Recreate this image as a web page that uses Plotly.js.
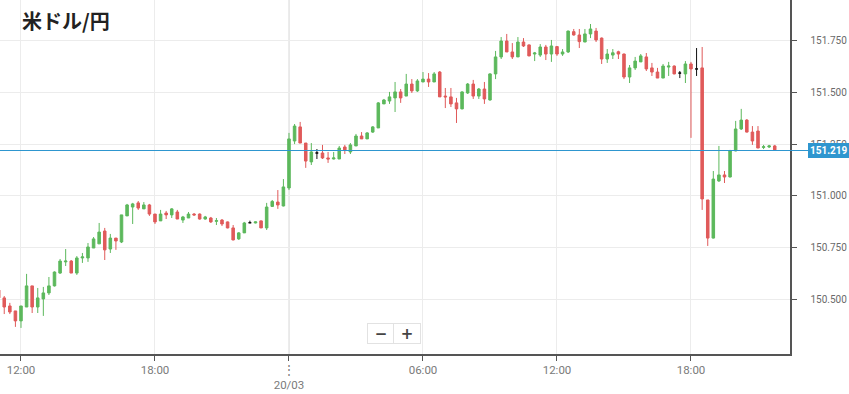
<!DOCTYPE html>
<html><head><meta charset="utf-8">
<script src="https://cdn.plot.ly/plotly-3.0.1.min.js"></script>
<style>html,body{margin:0;padding:0;background:#fff;} #chart{width:849px;height:394px;}</style>
</head><body><div id="chart"></div>
<script>
const chartTitle = '米ドル/円';
const startTime = '2024-03-19T11:00:00Z'; // first 15-minute candle
const open = [150.545,150.507,150.468,150.444,150.396,150.463,150.565,150.463,150.502,150.531,
150.565,150.627,150.681,150.685,150.627,150.700,150.700,150.748,150.768,150.830,
150.743,150.796,150.777,150.903,150.946,150.966,150.937,150.956,150.912,150.879,
150.917,150.908,150.922,150.883,150.893,150.912,150.912,150.888,150.893,150.877,
150.883,150.874,150.845,150.792,150.821,150.870,150.869,150.879,150.845,150.949,
150.970,150.951,151.038,151.265,151.333,151.255,151.164,151.207,151.207,151.183,
151.178,151.178,151.236,151.212,151.241,151.289,151.275,151.308,151.328,151.444,
151.458,151.473,151.502,151.482,151.540,151.507,151.550,151.564,151.550,151.598,
151.482,151.478,151.449,151.420,151.497,151.540,151.482,151.516,151.463,151.589,
151.671,151.748,151.695,151.671,151.743,151.729,151.685,151.680,151.719,151.685,
151.721,151.685,151.695,151.793,151.777,151.743,151.782,151.796,151.762,151.661,
151.680,151.696,151.685,151.574,151.618,151.647,151.671,151.618,151.598,151.569,
151.622,151.627,151.593,151.589,151.637,151.613,151.618,150.980,150.796,151.072,
151.101,151.091,151.217,151.323,151.366,151.308,151.313,151.234,151.236,151.241];
const high = [150.555,150.516,150.483,150.444,150.468,150.623,150.565,150.555,150.560,150.608,
150.635,150.695,150.743,150.690,150.709,150.724,150.772,150.801,150.869,150.845,
150.816,150.796,150.908,150.961,150.966,150.975,150.970,150.961,150.912,150.932,
150.927,150.941,150.932,150.903,150.922,150.917,150.915,150.903,150.898,150.893,
150.888,150.876,150.859,150.825,150.874,150.880,150.876,150.881,150.966,150.980,
151.028,151.081,151.304,151.347,151.357,151.255,151.255,151.226,151.246,151.212,
151.212,151.241,151.246,151.255,151.299,151.308,151.308,151.337,151.453,151.468,
151.502,151.550,151.516,151.589,151.564,151.564,151.598,151.593,151.598,151.603,
151.521,151.521,151.473,151.505,151.545,151.560,151.521,151.550,151.592,151.700,
151.767,151.782,151.738,151.767,151.762,151.731,151.695,151.733,151.729,151.753,
151.724,151.709,151.798,151.806,151.806,151.806,151.830,151.811,151.765,151.709,
151.709,151.701,151.687,151.632,151.671,151.685,151.690,151.642,151.618,151.637,
151.647,151.630,151.603,151.651,151.647,151.714,151.719,150.980,151.120,151.241,
151.120,151.222,151.362,151.420,151.371,151.337,151.337,151.246,151.246,151.246];
const low = [150.473,150.429,150.429,150.367,150.362,150.463,150.434,150.434,150.420,150.521,
150.562,150.623,150.661,150.627,150.618,150.676,150.681,150.748,150.768,150.690,
150.724,150.739,150.772,150.903,150.864,150.932,150.937,150.903,150.864,150.879,
150.888,150.893,150.888,150.869,150.893,150.903,150.885,150.885,150.869,150.859,
150.854,150.843,150.785,150.787,150.821,150.870,150.867,150.845,150.835,150.946,
150.937,150.949,151.028,151.250,151.255,151.135,151.149,151.178,151.178,151.159,
151.176,151.178,151.202,151.202,151.241,151.275,151.275,151.304,151.328,151.444,
151.444,151.405,151.449,151.482,151.497,151.502,151.550,151.526,151.550,151.478,
151.424,151.429,151.352,151.418,151.492,151.468,151.468,151.444,151.460,151.564,
151.661,151.695,151.661,151.671,151.719,151.674,151.651,151.671,151.656,151.647,
151.676,151.676,151.690,151.774,151.714,151.743,151.762,151.743,151.637,151.642,
151.661,151.661,151.564,151.545,151.608,151.647,151.603,151.579,151.569,151.569,
151.579,151.587,151.569,151.545,151.280,151.579,150.932,150.758,150.794,151.067,
151.062,151.089,151.215,151.318,151.306,151.246,151.231,151.226,151.231,151.220];
const close = [150.507,150.463,150.439,150.396,150.468,150.565,150.463,150.507,150.531,150.565,
150.632,150.685,150.685,150.627,150.700,150.705,150.753,150.792,150.825,150.739,
150.796,150.782,150.908,150.956,150.961,150.941,150.956,150.912,150.874,150.912,
150.908,150.937,150.888,150.898,150.912,150.908,150.888,150.898,150.874,150.880,
150.864,150.845,150.787,150.821,150.869,150.870,150.874,150.845,150.946,150.973,
150.956,151.043,151.275,151.337,151.255,151.168,151.212,151.207,151.183,151.178,
151.183,151.231,151.222,151.246,151.289,151.275,151.304,151.333,151.449,151.463,
151.478,151.502,151.473,151.540,151.507,151.555,151.564,151.550,151.589,151.478,
151.478,151.444,151.420,151.502,151.540,151.482,151.516,151.468,151.589,151.671,
151.748,151.695,151.671,151.743,151.724,151.676,151.690,151.719,151.685,151.724,
151.685,151.695,151.796,151.777,151.745,151.782,151.806,151.753,151.661,151.685,
151.691,151.685,151.574,151.618,151.651,151.676,151.613,151.598,151.569,151.627,
151.627,151.589,151.593,151.637,151.613,151.613,150.985,150.796,151.081,151.101,
151.091,151.217,151.323,151.366,151.308,151.265,151.231,151.237,151.241,151.222];
const dojiIndex = [45, 57, 122, 125];   // unchanged candles drawn in black
const lastPrice = 151.219;
const xTickVals = ['2024-03-19 12:00','2024-03-19 18:00','2024-03-20 00:00','2024-03-20 06:00','2024-03-20 12:00','2024-03-20 18:00'];
const xTickText = ['12:00','18:00','⋮<br>20/03','06:00','12:00','18:00'];
const yTickVals = [150.5, 150.75, 151.0, 151.25, 151.5, 151.75];
const xRange = ['2024-03-19 11:03:36','2024-03-20 22:26:00'];
const yRange = [150.236, 151.946];

const GREEN = '#5cb85c', RED = '#e05a5a', BLACK = '#111111', BLUE = '#2e96cf';
const t0 = Date.parse(startTime);
const fmt = ms => new Date(ms).toISOString().slice(0,16).replace('T',' ');
const times = open.map((_, i) => fmt(t0 + i * 900000));
const nextTime = fmt(t0 + open.length * 900000);

function pick(arr, keep) { return arr.filter((_, i) => keep(i)); }
const isDoji = i => dojiIndex.includes(i);
const notDoji = i => !isDoji(i);

function side(color) { return {line:{color:color, width:1}, fillcolor:color}; }

const traces = [
  {type:'candlestick', x:pick(times,notDoji), open:pick(open,notDoji), high:pick(high,notDoji),
   low:pick(low,notDoji), close:pick(close,notDoji), increasing:side(GREEN), decreasing:side(RED),
   whiskerwidth:0, hoverinfo:'skip'},
  {type:'candlestick', x:pick(times,isDoji), open:pick(open,isDoji), high:pick(high,isDoji),
   low:pick(low,isDoji), close:pick(close,isDoji), increasing:side(BLACK), decreasing:side(BLACK),
   whiskerwidth:0, hoverinfo:'skip'},
  {type:'candlestick', x:[nextTime], open:[lastPrice], high:[lastPrice], low:[lastPrice], close:[lastPrice],
   increasing:side('#9ccde8'), decreasing:side('#9ccde8'), whiskerwidth:0, hoverinfo:'skip'}
];

const layout = {
  width:849, height:394,
  margin:{l:0, r:59, t:0, b:40},
  paper_bgcolor:'#ffffff', plot_bgcolor:'#ffffff',
  showlegend:false, boxgap:0.35, boxmode:'overlay',
  font:{family:'Roboto, Arial, sans-serif'},
  xaxis:{type:'date', range:xRange, rangeslider:{visible:false}, tickvals:xTickVals, ticktext:xTickText,
    ticks:'outside', ticklen:5, tickcolor:'#555', showline:true, linecolor:'#555', linewidth:1.5,
    showgrid:true, gridcolor:'#ececec', gridwidth:1, zeroline:false, fixedrange:true,
    tickfont:{family:'Roboto, Arial, sans-serif', size:11.5, color:'#7a7a7a'}},
  yaxis:{side:'right', range:yRange, tickvals:yTickVals, tickformat:'.3f', ticks:'outside', ticklen:5,
    tickcolor:'#555', showline:true, linecolor:'#555', linewidth:1.5, showgrid:true, gridcolor:'#ececec',
    zeroline:false, fixedrange:true, ticklabelstandoff:12,
    tickfont:{family:'Roboto, Arial, sans-serif', size:10, color:'#6a6a6a'}},
  shapes:[
    {type:'line', xref:'x', yref:'paper', x0:xTickVals[2], x1:xTickVals[2], y0:0, y1:1,
     line:{color:'#d2d2d2', width:1}, layer:'below'},
    {type:'line', xref:'paper', yref:'y', x0:0, x1:1.025, y0:lastPrice, y1:lastPrice,
     line:{color:BLUE, width:1}}
  ],
  annotations:[
    {text:'<b>'+chartTitle+'</b>', xref:'paper', yref:'paper', x:20/790, y:1-21/354,
     xanchor:'left', yanchor:'middle', showarrow:false,
     font:{family:'Noto Sans CJK JP, sans-serif', size:20, color:'#222'}},
    {text:'<b>'+lastPrice.toFixed(3)+'</b>', xref:'paper', yref:'y', x:1.0225, y:lastPrice, xanchor:'left', yanchor:'middle',
     showarrow:false, bgcolor:BLUE, borderpad:2, bordercolor:BLUE, borderwidth:0,
     font:{family:'Roboto, Arial, sans-serif', size:10, color:'#ffffff'}},
    {text:'<b>−</b>', xref:'paper', yref:'paper', x:381/790, y:1-333/354, xanchor:'center', yanchor:'middle',
     width:24, height:17, showarrow:false, bgcolor:'#ffffff', bordercolor:'#e2e2e2', borderwidth:1,
     font:{family:'DejaVu Sans, sans-serif', size:15, color:'#444'}},
    {text:'<b>+</b>', xref:'paper', yref:'paper', x:407/790, y:1-333/354, xanchor:'center', yanchor:'middle',
     width:24, height:17, showarrow:false, bgcolor:'#ffffff', bordercolor:'#e2e2e2', borderwidth:1,
     font:{family:'DejaVu Sans, sans-serif', size:15, color:'#444'}}
  ]
};

Plotly.newPlot('chart', traces, layout, {displayModeBar:false, staticPlot:true});
</script>
</body></html>
